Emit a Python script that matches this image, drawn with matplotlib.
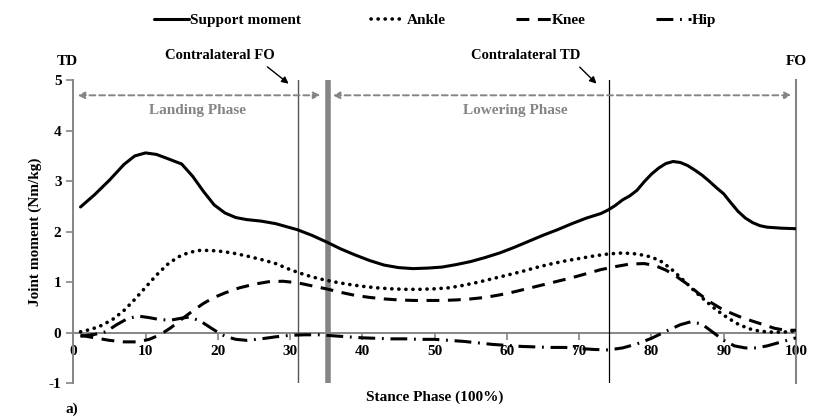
import matplotlib
matplotlib.use('Agg')
import matplotlib.pyplot as plt

plt.rcParams['font.family'] = ['Liberation Serif', 'DejaVu Serif']
plt.rcParams['font.weight'] = 'bold'
plt.rcParams['axes.unicode_minus'] = False

# stance phase (%) and joint moments (Nm/kg)
support_x = [1, 3, 5, 7, 8.5, 10, 11.5, 13, 15, 16.5, 18, 19.5, 21, 22.5, 24, 26, 28, 30, 31, 33,
             35, 37, 39, 41, 43, 45, 47, 49, 51, 53, 55, 57, 59, 61, 63, 65, 67, 69, 71, 73,
             74, 75, 76, 77, 78, 79, 80, 81, 82, 83, 84, 85, 86, 87, 88, 89, 90, 91, 92, 93,
             94, 95, 96, 98, 100]
support_y = [2.49, 2.74, 3.02, 3.33, 3.50, 3.56, 3.53, 3.45, 3.34, 3.10, 2.80, 2.53, 2.37, 2.28,
             2.24, 2.21, 2.16, 2.08, 2.04, 1.93, 1.80, 1.66, 1.54, 1.43, 1.34, 1.29, 1.27, 1.28,
             1.30, 1.35, 1.41, 1.49, 1.58, 1.69, 1.81, 1.93, 2.04, 2.16, 2.27, 2.36, 2.43, 2.52,
             2.63, 2.71, 2.82, 2.99, 3.14, 3.26, 3.35, 3.39, 3.37, 3.31, 3.22, 3.12, 3.00, 2.87,
             2.75, 2.57, 2.40, 2.27, 2.18, 2.12, 2.09, 2.07, 2.06]

ankle_x = [1, 2.5, 4, 5.5, 7, 8.5, 10, 11.5, 13, 14.5, 16, 17.5, 19, 20.5, 22, 24, 26, 28, 30, 32,
           34, 36, 38, 40, 42, 44, 46, 48, 50, 52, 54, 56, 58, 60, 62, 64, 66, 68, 70, 72, 74,
           76, 78, 80, 81.5, 83, 84.5, 86, 87.5, 89, 90.5, 92, 93.5, 95, 97, 99, 100]
ankle_y = [0.02, 0.07, 0.15, 0.27, 0.44, 0.66, 0.90, 1.14, 1.35, 1.50, 1.59, 1.63, 1.63, 1.61,
           1.58, 1.52, 1.45, 1.37, 1.25, 1.15, 1.07, 1.01, 0.96, 0.92, 0.89, 0.87, 0.86, 0.86,
           0.87, 0.89, 0.94, 1.00, 1.07, 1.14, 1.21, 1.29, 1.36, 1.42, 1.47, 1.52, 1.56, 1.58,
           1.56, 1.50, 1.40, 1.23, 1.03, 0.82, 0.63, 0.45, 0.30, 0.17, 0.08, 0.03, 0.01, 0.02, 0.05]

knee_x = [1, 3, 5, 7, 9, 10.5, 12, 13.5, 15, 16.5, 18, 19.5, 21, 23, 25, 27, 29, 31, 33, 35, 37,
          39, 41, 43, 45, 47, 49, 51, 53, 55, 57, 59, 61, 63, 65, 67, 69, 71, 73, 75, 77, 79,
          80.5, 82, 83.5, 85, 86.5, 88, 89.5, 91, 92.5, 94, 95.5, 97, 98.5, 100]
knee_y = [-0.05, -0.10, -0.15, -0.18, -0.18, -0.13, -0.04, 0.10, 0.27, 0.43, 0.58, 0.70, 0.79,
          0.89, 0.96, 1.01, 1.02, 0.99, 0.93, 0.87, 0.80, 0.74, 0.70, 0.67, 0.65, 0.64, 0.64,
          0.64, 0.65, 0.67, 0.70, 0.75, 0.81, 0.88, 0.95, 1.02, 1.09, 1.17, 1.25, 1.31, 1.36,
          1.37, 1.33, 1.24, 1.11, 0.96, 0.78, 0.62, 0.49, 0.39, 0.30, 0.23, 0.16, 0.09, 0.05, 0.05]

hip_x = [1, 3, 4.5, 6, 7.5, 9, 10.5, 12, 13.5, 15, 16, 17.5, 19, 20, 21, 22.5, 24, 26, 28, 30, 32,
         34, 36, 38, 40, 42, 44, 46, 48, 50, 52, 54, 56, 58, 60, 62, 64, 66, 68, 70, 72, 74, 76,
         78, 80, 82, 84, 85.5, 87, 88.5, 90, 91.5, 93, 94.5, 96, 97.5, 99, 100]
hip_y = [-0.07, -0.03, 0.02, 0.16, 0.28, 0.33, 0.30, 0.26, 0.25, 0.29, 0.31, 0.24, 0.10, 0.01,
         -0.07, -0.13, -0.15, -0.12, -0.08, -0.05, -0.04, -0.04, -0.06, -0.08, -0.10, -0.11,
         -0.12, -0.12, -0.13, -0.13, -0.15, -0.17, -0.20, -0.23, -0.25, -0.27, -0.28, -0.29,
         -0.29, -0.31, -0.33, -0.34, -0.30, -0.22, -0.11, 0.03, 0.16, 0.22, 0.17, 0.01, -0.15,
         -0.26, -0.30, -0.30, -0.26, -0.20, -0.14, -0.10]

series_names = ['Support moment', 'Ankle', 'Knee', 'Hip']
xticks = [0, 10, 20, 30, 40, 50, 60, 70, 80, 90, 100]
yticks = [-1, 0, 1, 2, 3, 4, 5]

# events
contra_fo = 31.1
phase_split = 35.2
contra_td = 74.1
foot_off = 100

grey = '#858585'

fig = plt.figure(figsize=(8.18, 4.17), dpi=100)
ax = fig.add_axes([0.0896, 0.0808, 0.8835, 0.727])

ax.plot(support_x, support_y, color='black', lw=2.2, solid_capstyle='round',
        label=series_names[0], zorder=4)
ax.plot(ankle_x, ankle_y, color='black', lw=2.6, linestyle=(0, (0.05, 1.9)),
        dash_capstyle='round', label=series_names[1], zorder=4)
ax.plot(knee_x, knee_y, color='black', lw=2.2, linestyle=(0, (4.2, 2.8)),
        label=series_names[2], zorder=4)
ax.plot(hip_x, hip_y, color='black', lw=2.2, linestyle=(0, (5.5, 2.2, 0.6, 2.2)),
        label=series_names[3], zorder=4)

# event lines
ax.plot([contra_fo, contra_fo], [-1, 5], color='#555555', lw=1.0, zorder=3)
ax.plot([phase_split, phase_split], [-1, 5], color=grey, lw=4, zorder=3)
ax.plot([contra_td, contra_td], [-1, 5], color='black', lw=0.9, zorder=3)
ax.plot([foot_off, foot_off], [-1, 5], color=grey, lw=1.5, zorder=3, clip_on=False)

# phase arrows
arrow = dict(arrowstyle='<|-|>', linestyle=(0, (3, 2)), color=grey, lw=1.4,
             mutation_scale=10, shrinkA=0, shrinkB=0)
ax.annotate('', xy=(34.2, 4.7), xytext=(0.6, 4.7), arrowprops=arrow, annotation_clip=False)
ax.annotate('', xy=(99.4, 4.7), xytext=(35.9, 4.7), arrowprops=arrow, annotation_clip=False)
ax.text(17.2, 4.4, 'Landing Phase', color=grey, fontsize=11, fontweight='bold',
        ha='center', va='center')
ax.text(61.2, 4.4, 'Lowering Phase', color=grey, fontsize=11, fontweight='bold',
        ha='center', va='center')

# event labels
ax.text(-0.8, 5.36, 'TD', fontsize=11, fontweight='bold', ha='center', va='center')
ax.text(100.1, 5.36, 'FO', fontsize=11, fontweight='bold', ha='center', va='center')
ax.annotate('Contralateral FO', xy=(29.8, 4.93), xytext=(20.3, 5.48), fontsize=10.5,
            fontweight='bold', ha='center', va='center', annotation_clip=False,
            arrowprops=dict(arrowstyle='-|>', color='black', lw=1, mutation_scale=10,
                            shrinkA=2, shrinkB=0, relpos=(0.88, 0.0)))
ax.annotate('Contralateral TD', xy=(72.4, 4.93), xytext=(62.6, 5.48), fontsize=10.5,
            fontweight='bold', ha='center', va='center', annotation_clip=False,
            arrowprops=dict(arrowstyle='-|>', color='black', lw=1, mutation_scale=10,
                            shrinkA=2, shrinkB=0, relpos=(0.95, 0.0)))

ax.set_xlim(0, 100)
ax.set_ylim(-1, 5)
ax.set_xticks(xticks)
ax.set_yticks(yticks)
ax.tick_params(colors=grey, labelcolor='black', labelsize=11, length=5, width=1.2)
for lbl in ax.get_xticklabels() + ax.get_yticklabels():
    lbl.set_fontweight('bold')
ax.spines['top'].set_visible(False)
ax.spines['right'].set_visible(False)
ax.spines['bottom'].set_position(('data', 0))
for s in ['left', 'bottom']:
    ax.spines[s].set_color(grey)
    ax.spines[s].set_linewidth(1.4)

ax.set_xlabel('Stance Phase (100%)', fontsize=11, fontweight='bold')
ax.xaxis.set_label_coords(0.5, -0.025)
ax.set_ylabel('Joint moment (Nm/kg)', fontsize=11, fontweight='bold')
ax.yaxis.set_label_coords(-0.043, 0.5)

fig.legend(loc='center', bbox_to_anchor=(0.532, 0.952), ncol=4, frameon=False,
           prop={'weight': 'bold', 'size': 11}, handlelength=2.3, handletextpad=0.05,
           columnspacing=4.6)

fig.text(0.08, 0.035, 'a)', fontsize=11, va='top')

fig.savefig('out.png', dpi=100)
